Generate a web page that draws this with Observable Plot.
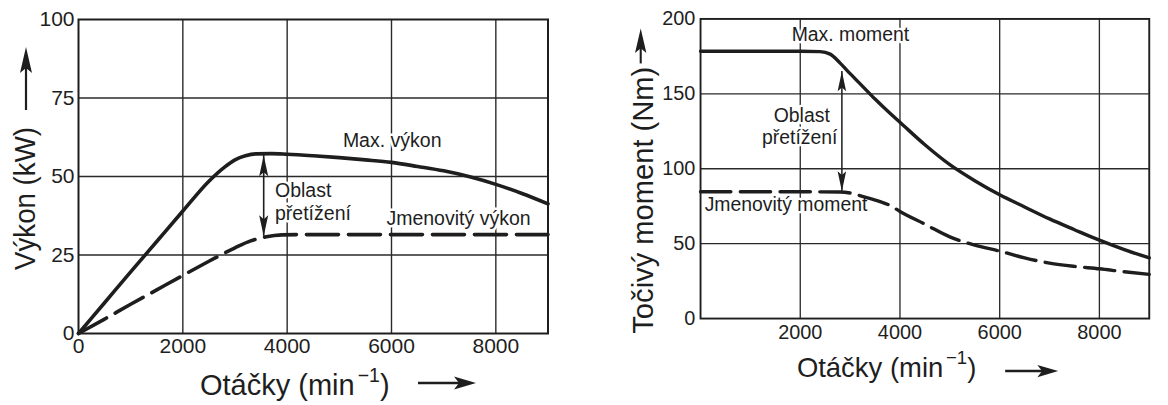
<!DOCTYPE html>
<html><head><meta charset="utf-8">
<script src="https://cdn.jsdelivr.net/npm/d3@7"></script>
<script src="https://cdn.jsdelivr.net/npm/@observablehq/plot@0.6"></script>
<style>
html,body{margin:0;padding:0;background:#fff;overflow:hidden;width:1168px;height:405px;}
#wrap{position:relative;width:1168px;height:405px;overflow:hidden;background:#fff;}
#left{position:absolute;left:0;top:0;}
#right{position:absolute;left:600px;top:0;}
</style></head><body><div id="wrap"><div id="left"></div><div id="right"></div></div>
<script>
const FONT = '"Liberation Sans", Arial, Helvetica, sans-serif';
const INK = "#1e1e1e";

// ---------- Left panel: power ----------
const powerXTicks = [0, 2000, 4000, 6000, 8000];
const powerYTicks = [0, 25, 50, 75, 100];
const powerXGrid = [2000, 4000, 6000, 8000];
const powerYGrid = [25, 50, 75];
const maxPowerRpm = [0, 500, 1000, 1500, 2000, 2500, 2800, 3000, 3200, 3400, 3700, 4000, 4500, 5000, 5500, 6000, 6500, 7000, 7500, 8000, 8500, 9000];
const maxPowerKw  = [0, 9.8, 19.6, 29.3, 39, 48.5, 53, 55.3, 56.6, 57.2, 57.3, 57.1, 56.6, 56, 55.3, 54.5, 53.2, 51.8, 49.9, 47.5, 44.6, 41.3];
const ratedPowerRpm = [0, 500, 1000, 1500, 2000, 2500, 3000, 3300, 3600, 3900, 4200, 6000, 9000];
const ratedPowerKw  = [0, 4.6, 9.3, 13.9, 18.5, 23, 27.3, 29.5, 30.8, 31.4, 31.5, 31.5, 31.5];
const powerArrowRpm = [3550];
const powerArrowLow = [31];
const powerArrowHigh = [56.8];
const powerNoteText = ["Max. výkon", "Oblast", "přetížení", "Jmenovitý výkon"];
const powerNoteRpm  = [5068, 3767, 3767, 5903];
const powerNoteKw   = [61.5, 45.4, 38.2, 36.7];

// ---------- Right panel: torque ----------
const torqueXTicks = [2000, 4000, 6000, 8000];
const torqueYTicks = [0, 50, 100, 150, 200];
const torqueXGrid = [2000, 4000, 6000, 8000];
const torqueYGrid = [50, 100, 150];
const maxTorqueRpm = [0, 1000, 2000, 2400, 2600, 2800, 3000, 3250, 3500, 3800, 4000, 4500, 5000, 5500, 6000, 6500, 7000, 7500, 8000, 8500, 9000];
const maxTorqueNm  = [178.4, 178.4, 178.4, 178.2, 176.5, 170.5, 163.5, 155, 146.5, 137, 131, 116, 102.7, 92, 82.6, 74.5, 66.5, 59.3, 52.3, 46, 40.5];
const ratedTorqueRpm = [0, 1000, 2000, 2800, 3000, 3300, 3600, 3800, 4000, 4500, 5000, 5500, 6000, 6500, 7000, 7500, 8000, 8500, 9000];
const ratedTorqueNm  = [84.6, 84.6, 84.6, 84.5, 83.8, 81, 78, 75.5, 71.5, 63, 54.5, 49, 45, 40.5, 37, 34.8, 33.2, 31.2, 29.5];
const torqueArrowRpm = [2835];
const torqueArrowLow = [85];
const torqueArrowHigh = [165];
const torqueNoteStartText = ["Max. moment", "Jmenovitý moment"];
const torqueNoteStartRpm  = [1828, 82];
const torqueNoteStartNm   = [189.6, 76];
const torqueNoteMidText = ["Oblast", "přetížení"];
const torqueNoteMidRpm  = [2030, 1990];
const torqueNoteMidNm   = [135.5, 120.6];

const zip = (xs, ys) => xs.map((x, i) => ({x, y: ys[i]}));

// narrow filled arrowheads (tip at the data point)
const headUp = {draw(ctx) { ctx.moveTo(0, 0); ctx.lineTo(4.5, 21); ctx.lineTo(0, 17); ctx.lineTo(-4.5, 21); ctx.closePath(); }};
const headDown = {draw(ctx) { ctx.moveTo(0, 0); ctx.lineTo(4.5, -21); ctx.lineTo(0, -17); ctx.lineTo(-4.5, -21); ctx.closePath(); }};

function panel(cfg) {
  const arrow = cfg.arrowX.map((x, i) => ({x, y1: cfg.arrowLow[i], y2: cfg.arrowHigh[i]}));
  const halo = {stroke: "white", strokeWidth: 5, paintOrder: "stroke", fill: INK, fontSize: cfg.noteSize, fontFamily: FONT};
  return Plot.plot({
    width: 600, height: 405,
    marginLeft: cfg.ml, marginRight: cfg.mr, marginTop: cfg.mt, marginBottom: cfg.mb,
    style: {fontFamily: FONT, fontSize: "21px", color: INK, background: "white", overflow: "visible"},
    x: {domain: [0, 9000], ticks: cfg.xTicks, tickSize: 0, tickPadding: cfg.xPad, tickFormat: d3.format("d"), label: null},
    y: {domain: cfg.yDomain, ticks: cfg.yTicks, tickSize: 0, tickPadding: cfg.yPad, tickFormat: d3.format("d"), label: null},
    marks: [
      Plot.ruleX(cfg.xGrid, {stroke: "#2a2a2a", strokeWidth: 1.4}),
      Plot.ruleY(cfg.yGrid, {stroke: "#2a2a2a", strokeWidth: 1.4}),
      ...cfg.notes.map(n => Plot.text(n.data, {x: "x", y: "y", text: "t", textAnchor: n.anchor, ...halo})),
      Plot.line(cfg.maxLine, {x: "x", y: "y", stroke: INK, strokeWidth: 3.6, curve: "monotone-x"}),
      Plot.line(cfg.ratedLine, {x: "x", y: "y", stroke: INK, strokeWidth: 3.6, curve: "monotone-x", strokeDasharray: "32,10"}),
      Plot.ruleX(arrow, {x: "x", y1: "y1", y2: "y2", stroke: INK, strokeWidth: 1.6}),
      Plot.dot(arrow, {x: "x", y: "y2", symbol: headUp, fill: INK, stroke: "none"}),
      Plot.dot(arrow, {x: "x", y: "y1", symbol: headDown, fill: INK, stroke: "none"}),
      Plot.frame({stroke: INK, strokeWidth: 2})
    ]
  });
}

const noteRows = (t, x, y) => t.map((s, i) => ({t: s, x: x[i], y: y[i]}));

const left = panel({
  ml: 78, mr: 52.5, mt: 19, mb: 72, xPad: 5, yPad: 4, noteSize: 19.5,
  xTicks: powerXTicks, yTicks: powerYTicks, xGrid: powerXGrid, yGrid: powerYGrid, yDomain: [0, 100],
  maxLine: zip(maxPowerRpm, maxPowerKw), ratedLine: zip(ratedPowerRpm, ratedPowerKw),
  arrowX: powerArrowRpm, arrowLow: powerArrowLow, arrowHigh: powerArrowHigh,
  notes: [{anchor: "start", data: noteRows(powerNoteText, powerNoteRpm, powerNoteKw)}]
});
const right = panel({
  ml: 105.7, mr: 20.3, mt: 19.5, mb: 69, xPad: 7, yPad: 5.5, noteSize: 20.5,
  xTicks: torqueXTicks, yTicks: torqueYTicks, xGrid: torqueXGrid, yGrid: torqueYGrid, yDomain: [0, 200],
  maxLine: zip(maxTorqueRpm, maxTorqueNm), ratedLine: zip(ratedTorqueRpm, ratedTorqueNm),
  arrowX: torqueArrowRpm, arrowLow: torqueArrowLow, arrowHigh: torqueArrowHigh,
  notes: [
    {anchor: "start", data: noteRows(torqueNoteStartText, torqueNoteStartRpm, torqueNoteStartNm)},
    {anchor: "middle", data: noteRows(torqueNoteMidText, torqueNoteMidRpm, torqueNoteMidNm)}
  ]
});
document.getElementById("left").appendChild(left);
document.getElementById("right").appendChild(right);

// ---------- axis titles with arrows ----------
function xTitle(svgNode, x, baseline, ax1, ax2, ay) {
  const svg = d3.select(svgNode);
  const t = svg.append("text").attr("x", x).attr("y", baseline).attr("text-anchor", "start")
    .attr("font-family", FONT).attr("font-size", 29).attr("fill", INK);
  t.append("tspan").text("Otáčky (min");
  t.append("tspan").attr("dx", 3).attr("dy", -13).attr("font-size", 19.5).text("−1");
  t.append("tspan").attr("dy", 13).text(")");
  svg.append("line").attr("x1", ax1).attr("x2", ax2 - 14).attr("y1", ay).attr("y2", ay)
    .attr("stroke", INK).attr("stroke-width", 2.6);
  svg.append("path").attr("d", `M${ax2},${ay} L${ax2 - 22},${ay - 6.5} L${ax2 - 17},${ay} L${ax2 - 22},${ay + 6.5} Z`).attr("fill", INK);
}
function yTitle(svgNode, label, bx, cy, size, len, axX, ay1, ay2) {
  const svg = d3.select(svgNode);
  svg.append("text").attr("transform", `translate(${bx},${cy}) rotate(-90)`)
    .attr("text-anchor", "middle").attr("font-family", FONT).attr("font-size", size).attr("fill", INK)
    .attr("textLength", len).attr("lengthAdjust", "spacingAndGlyphs").text(label);
  svg.append("line").attr("x1", axX).attr("x2", axX).attr("y1", ay1).attr("y2", ay2 + 14)
    .attr("stroke", INK).attr("stroke-width", 2.2);
  svg.append("path").attr("d", `M${axX},${ay2} L${axX - 6},${ay2 + 26} L${axX},${ay2 + 21} L${axX + 6},${ay2 + 26} Z`).attr("fill", INK);
}
xTitle(left, 200, 395, 418, 476, 383);
yTitle(left, "Výkon (kW)", 35, 198.5, 29, 143, 26, 110, 47);
xTitle(right, 208, 398, 428, 484, 392);
yTitle(right, "Točivý moment (Nm)", 56, 211.5, 31, 282, 43, 67, 30);
</script></body></html>
